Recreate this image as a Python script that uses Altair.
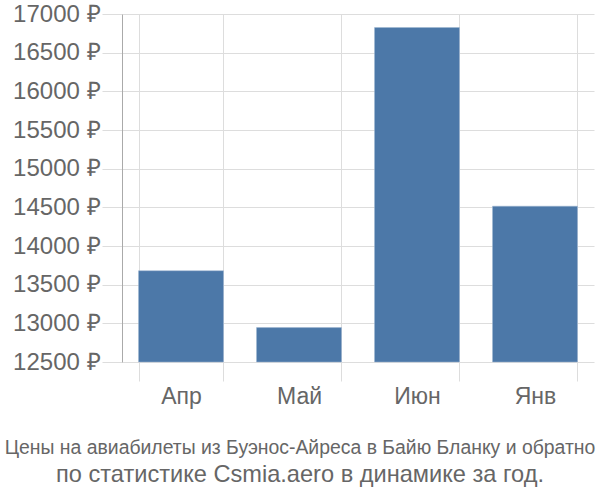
import altair as alt
import pandas as pd

months = ["Апр", "Май", "Июн", "Янв"]
prices = [13680, 12945, 16825, 14515]
y_ticks = [12500, 13000, 13500, 14000, 14500, 15000, 15500, 16000, 16500, 17000]
title_line1 = "Цены на авиабилеты из Буэнос-Айреса в Байю Бланку и обратно"
title_line2 = "по статистике Csmia.aero в динамике за год."

df = pd.DataFrame({"month": months, "price": prices})

font = "Liberation Sans, Arial, sans-serif"

chart = alt.Chart(df).mark_bar(color="#4c78a8", stroke="#9fb6d3", strokeWidth=0.5).encode(
    x=alt.X("month:N", sort=months, title=None,
            scale=alt.Scale(paddingInner=0.28, paddingOuter=0.14),
            axis=alt.Axis(tickBand="extent", grid=True, gridColor="#dddddd", domain=False,
                          ticks=True, tickColor="#dddddd", tickSize=19, labelPadding=4,
                          labelFont=font, labelFontSize=23, labelColor="#666666", labelAngle=0)),
    y=alt.Y("price:Q", title=None,
            scale=alt.Scale(domain=[12500, 17000], zero=False, nice=False),
            axis=alt.Axis(values=y_ticks, labelExpr="datum.value + ' ₽'", grid=True,
                          gridColor="#dddddd", domain=True, domainColor="#aaaaaa",
                          tickColor="#dddddd", tickSize=20, labelPadding=2,
                          labelFont=font, labelFontSize=24, labelColor="#666666")),
    y2=alt.datum(12500),
).properties(
    width=472,
    height=348,
    autosize=alt.AutoSizeParams(type="none"),
    padding={"left": 122, "top": 14, "right": 6, "bottom": 138},
    title=alt.TitleParams(
        text=title_line1,
        subtitle=title_line2,
        orient="bottom",
        anchor="middle",
        dx=-58,
        font=font,
        fontSize=19.4,
        fontWeight="normal",
        color="#666666",
        subtitleFont=font,
        subtitleFontSize=23.6,
        subtitleColor="#666666",
        subtitlePadding=5,
        offset=31,
    ),
).configure_view(stroke=None)

chart.save("out.html", embed_options={"renderer": "svg", "actions": False})
